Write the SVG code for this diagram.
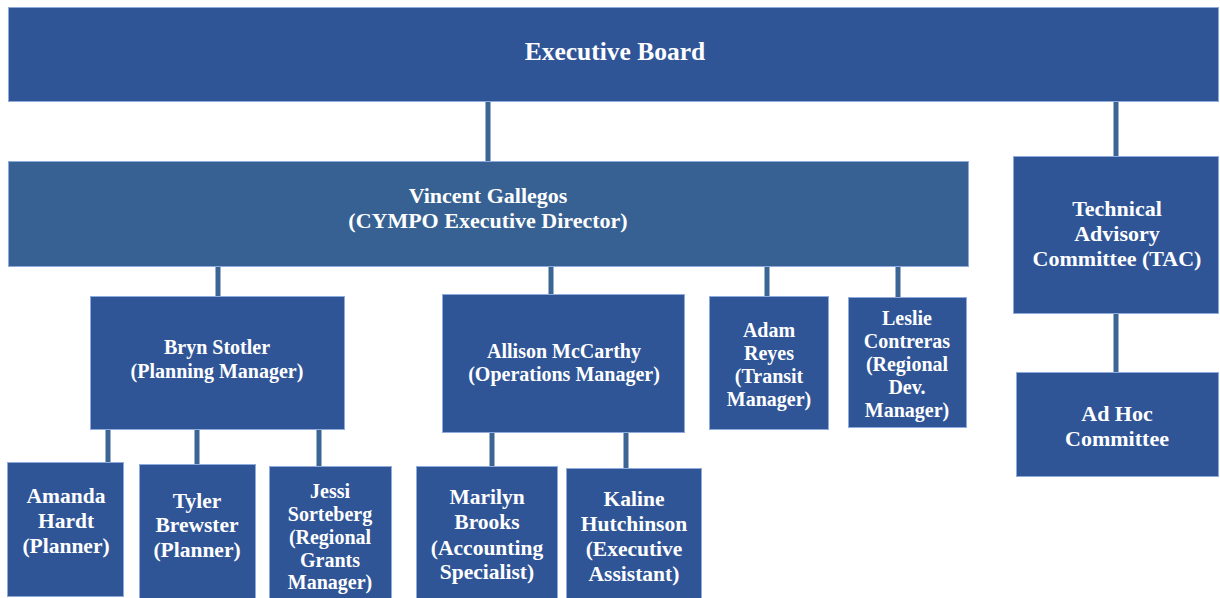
<svg xmlns="http://www.w3.org/2000/svg" width="1220" height="598" viewBox="0 0 1220 598">
<style>
.box{fill:#2f5597;stroke:#8faadc;stroke-width:1}
.box2{fill:#366192;stroke:#8faadc;stroke-width:1}
.conn line{stroke:#3a6594;stroke-width:5}
text{font-family:'Liberation Serif','Times New Roman',serif;font-weight:bold;fill:#fff;text-anchor:middle}
.s25{font-size:25.5px}.s22{font-size:22px}.s20{font-size:20px}.s21{font-size:21.5px}
</style>
<rect width="1220" height="598" fill="#fff"/>
<g class="conn" id="connectors">
<line x1="488" y1="102" x2="488" y2="162"/>
<line x1="1116" y1="102" x2="1116" y2="157"/>
<line x1="1116" y1="313" x2="1116" y2="373"/>
<line x1="218" y1="267" x2="218" y2="296"/>
<line x1="551" y1="267" x2="551" y2="294"/>
<line x1="767" y1="267" x2="767" y2="296"/>
<line x1="898" y1="267" x2="898" y2="297"/>
<line x1="108" y1="430" x2="108" y2="462"/>
<line x1="197" y1="430" x2="197" y2="464"/>
<line x1="319" y1="430" x2="319" y2="466"/>
<line x1="492" y1="433" x2="492" y2="466"/>
<line x1="626" y1="433" x2="626" y2="468"/>
</g>
<g id="executive-board"><rect class="box" x="8.5" y="7.5" width="1210" height="94"/><text class="s25" x="615" y="60">Executive Board</text></g>
<g id="vincent"><rect class="box2" x="8.5" y="161.5" width="960" height="105"/><text class="s22" x="488" y="203">Vincent Gallegos</text><text class="s22" x="488" y="228">(CYMPO Executive Director)</text></g>
<g id="tac"><rect class="box" x="1013.5" y="156.5" width="205" height="157"/><text class="s22" x="1117" y="216">Technical</text><text class="s22" x="1117" y="241">Advisory</text><text class="s22" x="1117" y="266">Committee (TAC)</text></g>
<g id="adhoc"><rect class="box" x="1016.5" y="372.5" width="202" height="104"/><text class="s22" x="1117" y="421">Ad Hoc</text><text class="s22" x="1117" y="446">Committee</text></g>
<g id="bryn"><rect class="box" x="90.5" y="296.5" width="254" height="133"/><text class="s20" x="217" y="354">Bryn Stotler</text><text class="s20" x="217" y="378">(Planning Manager)</text></g>
<g id="allison"><rect class="box" x="442.5" y="294.5" width="242" height="138"/><text class="s20" x="564" y="358">Allison McCarthy</text><text class="s20" x="564" y="381">(Operations Manager)</text></g>
<g id="adam"><rect class="box" x="709.5" y="296.5" width="119" height="133"/><text class="s20" x="769" y="337">Adam</text><text class="s20" x="769" y="360">Reyes</text><text class="s20" x="769" y="383">(Transit</text><text class="s20" x="769" y="406">Manager)</text></g>
<g id="leslie"><rect class="box" x="848.5" y="297.5" width="118" height="130"/><text class="s20" x="907" y="325">Leslie</text><text class="s20" x="907" y="348">Contreras</text><text class="s20" x="907" y="371">(Regional</text><text class="s20" x="907" y="394">Dev.</text><text class="s20" x="907" y="417">Manager)</text></g>
<g id="amanda"><rect class="box" x="7.5" y="462.5" width="116" height="134"/><text class="s21" x="66" y="503">Amanda</text><text class="s21" x="66" y="528">Hardt</text><text class="s21" x="66" y="553">(Planner)</text></g>
<g id="tyler"><rect class="box" x="139.5" y="464.5" width="116" height="140"/><text class="s21" x="197" y="508">Tyler</text><text class="s21" x="197" y="532">Brewster</text><text class="s21" x="197" y="557">(Planner)</text></g>
<g id="jessi"><rect class="box" x="269.5" y="466.5" width="122" height="140"/><text class="s20" x="330" y="498">Jessi</text><text class="s20" x="330" y="521">Sorteberg</text><text class="s20" x="330" y="544">(Regional</text><text class="s20" x="330" y="567">Grants</text><text class="s20" x="330" y="589">Manager)</text></g>
<g id="marilyn"><rect class="box" x="416.5" y="466.5" width="141" height="140"/><text class="s21" x="487" y="504">Marilyn</text><text class="s21" x="487" y="529">Brooks</text><text class="s21" x="487" y="555">(Accounting</text><text class="s21" x="487" y="579">Specialist)</text></g>
<g id="kaline"><rect class="box" x="566.5" y="468.5" width="135" height="140"/><text class="s21" x="634" y="506">Kaline</text><text class="s21" x="634" y="531">Hutchinson</text><text class="s21" x="634" y="556">(Executive</text><text class="s21" x="634" y="581">Assistant)</text></g>
</svg>
